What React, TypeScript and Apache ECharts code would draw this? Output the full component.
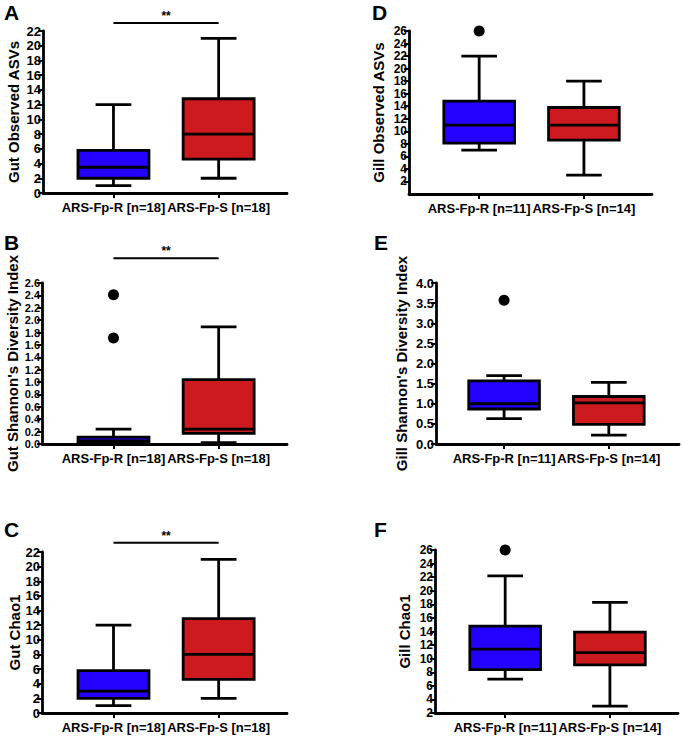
import React, { useEffect, useRef } from "react";
import * as echarts from "echarts";

// ---------- data ----------
const gutGroups = ["ARS-Fp-R [n=18]", "ARS-Fp-S [n=18]"];
const gillGroups = ["ARS-Fp-R [n=11]", "ARS-Fp-S [n=14]"];
const groupColors = ["#2400ff", "#cc1a1e"];

// box values: [min, Q1, median, Q3, max]
const gutAsvR = [1, 2, 3.5, 5.8, 12];
const gutAsvS = [2, 4.6, 8, 12.8, 21];
const gutShannonR = [0.0, 0.01, 0.05, 0.11, 0.24];
const gutShannonS = [0.02, 0.17, 0.24, 1.04, 1.89];
const gutChaoR = [1, 2, 3, 5.8, 12];
const gutChaoS = [2, 4.6, 8, 12.9, 21];
const gillAsvR = [7, 8.1, 11, 14.8, 22];
const gillAsvS = [3, 8.6, 11, 13.8, 18];
const gillShannonR = [0.63, 0.87, 1.0, 1.57, 1.7];
const gillShannonS = [0.22, 0.49, 1.02, 1.18, 1.53];
const gillChaoR = [7, 8.4, 11.4, 14.8, 22.2];
const gillChaoS = [3, 9.1, 10.9, 13.9, 18.3];

// outliers (group R only)
const gutShannonOutliersR = [2.41, 1.71];
const gillAsvOutliersR = [26];
const gillShannonOutliersR = [3.57];
const gillChaoOutliersR = [26];

// significance bar heights (data units)
const sigGutAsv = 23.1;
const sigGutShannon = 3.0;
const sigGutChao = 23.25;

// tick labels
const gutCountTicks = [0, 2, 4, 6, 8, 10, 12, 14, 16, 18, 20, 22];
const gutShannonTicks = [0, 0.2, 0.4, 0.6, 0.8, 1.0, 1.2, 1.4, 1.6, 1.8, 2.0, 2.2, 2.4, 2.6];
const gillCountTicks = [2, 4, 6, 8, 10, 12, 14, 16, 18, 20, 22, 24, 26];
const gillShannonTicks = [0, 0.5, 1.0, 1.5, 2.0, 2.5, 3.0, 3.5, 4.0];

// ---------- layout ----------
const FONT = '"Liberation Sans", Arial, Helvetica, sans-serif';
const BOX_W = 0.675; // in x units (1 unit = distance between groups)
const CAP_W = 0.34;
const LW = 2.8;

type Panel = {
  letter: string;
  letterX: number;
  letterY: number;
  left: number;
  top: number;
  width: number;
  height: number;
  xMin: number;
  xMax: number;
  yMin: number;
  yMax: number;
  ticks: number[];
  decimals: number;
  yName: string;
  nameGap: number;
  groups: string[];
  boxes: number[][];
  outliers: number[];
  sig: number | null;
  tickFont: number;
};

const panels: Panel[] = [
  {
    letter: "A", letterX: 4, letterY: 2,
    left: 43, top: 31, width: 244, height: 162,
    xMin: -0.67, xMax: 1.65, yMin: 0, yMax: 22,
    ticks: gutCountTicks, decimals: 0,
    yName: "Gut Observed ASVs", nameGap: 22,
    groups: gutGroups, boxes: [gutAsvR, gutAsvS], outliers: [], sig: sigGutAsv, tickFont: 13,
  },
  {
    letter: "B", letterX: 4, letterY: 232,
    left: 42, top: 283, width: 245, height: 161,
    xMin: -0.68, xMax: 1.65, yMin: 0, yMax: 2.6,
    ticks: gutShannonTicks, decimals: 1,
    yName: "Gut Shannon's Diversity Index", nameGap: 22,
    groups: gutGroups, boxes: [gutShannonR, gutShannonS], outliers: gutShannonOutliersR, sig: sigGutShannon, tickFont: 11,
  },
  {
    letter: "C", letterX: 4, letterY: 519,
    left: 42, top: 552, width: 245, height: 161,
    xMin: -0.68, xMax: 1.65, yMin: 0, yMax: 22,
    ticks: gutCountTicks, decimals: 0,
    yName: "Gut Chao1", nameGap: 19,
    groups: gutGroups, boxes: [gutChaoR, gutChaoS], outliers: [], sig: sigGutChao, tickFont: 13,
  },
  {
    letter: "D", letterX: 372, letterY: 2,
    left: 409, top: 31, width: 243, height: 163,
    xMin: -0.67, xMax: 1.65, yMin: 0, yMax: 26,
    ticks: gillCountTicks, decimals: 0,
    yName: "Gill Observed ASVs", nameGap: 23,
    groups: gillGroups, boxes: [gillAsvR, gillAsvS], outliers: gillAsvOutliersR, sig: null, tickFont: 12,
  },
  {
    letter: "E", letterX: 374, letterY: 232,
    left: 436, top: 283, width: 243, height: 161,
    xMin: -0.65, xMax: 1.67, yMin: 0, yMax: 4,
    ticks: gillShannonTicks, decimals: 1,
    yName: "Gill Shannon's Diversity Index", nameGap: 27,
    groups: gillGroups, boxes: [gillShannonR, gillShannonS], outliers: gillShannonOutliersR, sig: null, tickFont: 13,
  },
  {
    letter: "F", letterX: 374, letterY: 519,
    left: 435, top: 550, width: 243, height: 163,
    xMin: -0.67, xMax: 1.65, yMin: 2, yMax: 26,
    ticks: gillCountTicks, decimals: 0,
    yName: "Gill Chao1", nameGap: 23,
    groups: gillGroups, boxes: [gillChaoR, gillChaoS], outliers: gillChaoOutliersR, sig: null, tickFont: 12,
  },
];

const renderBox = (params: any, api: any) => {
  const x = api.value(0);
  const mn = api.value(1);
  const q1 = api.value(2);
  const md = api.value(3);
  const q3 = api.value(4);
  const mx = api.value(5);
  const unit = api.size([1, 0])[0];
  const half = (unit * BOX_W) / 2;
  const capHalf = (unit * CAP_W) / 2;
  const pMin = api.coord([x, mn]);
  const pQ1 = api.coord([x, q1]);
  const pMd = api.coord([x, md]);
  const pQ3 = api.coord([x, q3]);
  const pMax = api.coord([x, mx]);
  const cx = pMin[0];
  const stroke = { stroke: "#000", lineWidth: LW, fill: null };
  return {
    type: "group",
    children: [
      { type: "line", shape: { x1: cx, y1: pQ3[1], x2: cx, y2: pMax[1] }, style: stroke },
      { type: "line", shape: { x1: cx, y1: pQ1[1], x2: cx, y2: pMin[1] }, style: stroke },
      { type: "line", shape: { x1: cx - capHalf, y1: pMax[1], x2: cx + capHalf, y2: pMax[1] }, style: stroke },
      { type: "line", shape: { x1: cx - capHalf, y1: pMin[1], x2: cx + capHalf, y2: pMin[1] }, style: stroke },
      {
        type: "rect",
        shape: { x: cx - half, y: pQ3[1], width: 2 * half, height: pQ1[1] - pQ3[1] },
        style: { fill: groupColors[params.dataIndex], stroke: "#000", lineWidth: LW },
      },
      { type: "line", shape: { x1: cx - half, y1: pMd[1], x2: cx + half, y2: pMd[1] }, style: stroke },
    ],
  };
};

export default function App() {
  const ref = useRef<HTMLDivElement>(null);

  useEffect(() => {
    if (!ref.current) return;
    const chart = echarts.init(ref.current, null, { renderer: "svg" });

    const grids: any[] = [];
    const xAxes: any[] = [];
    const yAxes: any[] = [];
    const series: any[] = [];
    const graphics: any[] = [];

    panels.forEach((p, i) => {
      grids.push({ left: p.left, top: p.top, width: p.width, height: p.height, outerBoundsMode: "none" });
      xAxes.push({
        type: "value",
        gridIndex: i,
        min: p.xMin,
        max: p.xMax,
        axisLine: { show: true, onZero: false, lineStyle: { color: "#000", width: LW } },
        axisTick: { show: true, customValues: [0, 1], length: 5, lineStyle: { color: "#000", width: 2 } },
        axisLabel: {
          customValues: [0, 1],
          formatter: (v: number) => p.groups[Math.round(v)],
          color: "#000",
          fontFamily: FONT,
          fontWeight: "bold",
          fontSize: 13,
          margin: 8,
          showMinLabel: true,
          showMaxLabel: true,
        },
        splitLine: { show: false },
      });
      yAxes.push({
        type: "value",
        gridIndex: i,
        min: p.yMin,
        max: p.yMax,
        name: p.yName,
        nameLocation: "middle",
        nameGap: p.nameGap,
        nameTextStyle: { color: "#000", fontFamily: FONT, fontWeight: "bold", fontSize: 15 },
        axisLine: { show: true, onZero: false, lineStyle: { color: "#000", width: LW } },
        axisTick: { show: true, customValues: p.ticks, length: 5, lineStyle: { color: "#000", width: 2 } },
        axisLabel: {
          customValues: p.ticks,
          formatter: (v: number) => v.toFixed(p.decimals),
          color: "#000",
          fontFamily: FONT,
          fontWeight: "bold",
          fontSize: p.tickFont,
          margin: 2,
          showMinLabel: true,
          showMaxLabel: true,
          hideOverlap: false,
        },
        splitLine: { show: false },
      });
      series.push({
        type: "custom",
        xAxisIndex: i,
        yAxisIndex: i,
        renderItem: renderBox,
        encode: { x: 0, y: [1, 2, 3, 4, 5] },
        data: p.boxes.map((b, k) => [k, ...b]),
        z: 2,
      });
      if (p.outliers.length) {
        series.push({
          type: "scatter",
          xAxisIndex: i,
          yAxisIndex: i,
          data: p.outliers.map((v) => [0, v]),
          symbol: "circle",
          symbolSize: 11,
          itemStyle: { color: "#000", opacity: 1 },
          clip: false,
          z: 3,
        });
      }
      if (p.sig !== null) {
        series.push({
          type: "line",
          xAxisIndex: i,
          yAxisIndex: i,
          data: [[0, p.sig], [1, p.sig]],
          symbol: "none",
          clip: false,
          lineStyle: { color: "#000", width: 2 },
          z: 3,
        });
      }
      graphics.push({
        type: "text",
        left: p.letterX,
        top: p.letterY,
        style: { text: p.letter, fill: "#000", font: `bold 21px ${FONT}` },
      });
    });

    chart.setOption({
      animation: false,
      backgroundColor: "#fff",
      grid: grids,
      xAxis: xAxes,
      yAxis: yAxes,
      series,
      graphic: graphics,
    });

    const stars: any[] = [];
    panels.forEach((p, i) => {
      if (p.sig === null) return;
      const pt = chart.convertToPixel({ gridIndex: i } as any, [0.5, p.sig]) as number[];
      stars.push({
        type: "text",
        x: pt[0],
        y: pt[1] - 1,
        style: {
          text: "**",
          fill: "#000",
          font: `bold 12px ${FONT}`,
          textAlign: "center",
          textVerticalAlign: "bottom",
        },
      });
    });
    chart.setOption({ graphic: [...graphics, ...stars] });

    return () => chart.dispose();
  }, []);

  return (
    <div
      ref={ref}
      style={{ position: "absolute", left: 0, top: 0, width: 682, height: 736, background: "#fff" }}
    />
  );
}
